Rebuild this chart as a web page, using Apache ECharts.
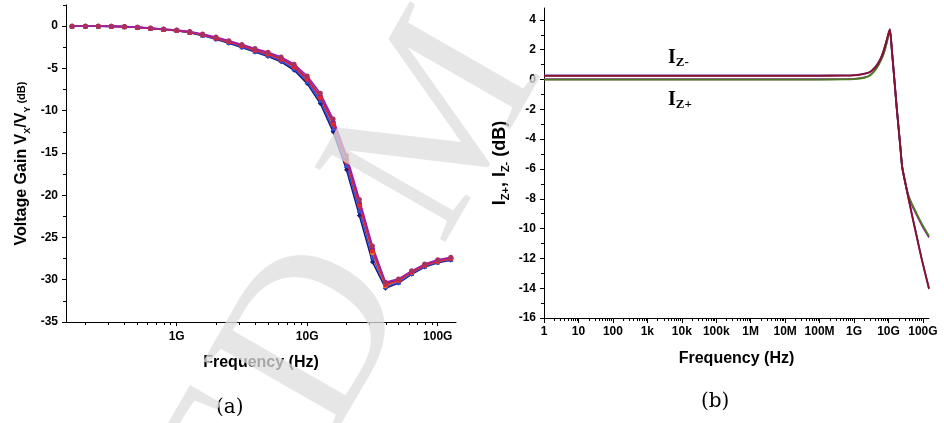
<!DOCTYPE html>
<html><head><meta charset="utf-8">
<script src="https://cdn.jsdelivr.net/npm/echarts@6/dist/echarts.min.js"></script>
<style>html,body{margin:0;padding:0;background:#fff}#c{width:944px;height:423px}</style>
</head><body><div id="c"></div>
<script>
// ---------- Panel (a): voltage gain ----------
const freqA = [1.58e8, 2.0e8, 2.51e8, 3.16e8, 3.98e8, 5.01e8, 6.31e8, 7.94e8, 1.0e9, 1.26e9,
  1.58e9, 2.0e9, 2.51e9, 3.16e9, 3.98e9, 5.01e9, 6.31e9, 7.94e9, 1.0e10, 1.26e10,
  1.58e10, 2.0e10, 2.51e10, 3.16e10, 3.98e10, 5.01e10, 6.31e10, 7.94e10, 1.0e11, 1.26e11];
const gainNavy = [0,0,-0.01,-0.03,-0.07,-0.15,-0.28,-0.41,-0.55,-0.77,-1.12,-1.54,-2.02,-2.52,-3.07,-3.58,-4.22,-5.22,-6.8,-9.15,-12.5,-17.0,-22.4,-27.9,-31.0,-30.4,-29.35,-28.5,-28.0,-27.7];
const gainBlue = [0,0,-0.01,-0.03,-0.07,-0.15,-0.28,-0.4,-0.53,-0.74,-1.08,-1.48,-1.94,-2.43,-2.96,-3.46,-4.08,-5.03,-6.55,-8.8,-12.1,-16.5,-21.8,-27.3,-30.8,-30.3,-29.25,-28.4,-27.9,-27.6];
const gainOrange = [0,0,-0.01,-0.02,-0.06,-0.14,-0.26,-0.38,-0.5,-0.69,-1.0,-1.38,-1.81,-2.27,-2.77,-3.24,-3.82,-4.7,-6.15,-8.3,-11.4,-15.7,-20.9,-26.8,-30.7,-30.1,-29.1,-28.3,-27.8,-27.5];
const gainPurple = [0,0,-0.01,-0.02,-0.06,-0.14,-0.26,-0.38,-0.5,-0.7,-1.01,-1.39,-1.83,-2.29,-2.79,-3.27,-3.85,-4.75,-6.2,-8.35,-11.4,-15.8,-21.0,-26.4,-30.4,-30.0,-29.05,-28.25,-27.75,-27.45];
const gainRed = [0,0,-0.01,-0.03,-0.07,-0.15,-0.27,-0.39,-0.51,-0.71,-1.03,-1.42,-1.86,-2.33,-2.84,-3.32,-3.91,-4.82,-6.29,-8.46,-11.6,-16.0,-21.2,-26.6,-30.6,-30.1,-29.1,-28.3,-27.8,-27.5];
const gainMagenta = [0,0,-0.01,-0.02,-0.05,-0.12,-0.23,-0.34,-0.45,-0.63,-0.93,-1.3,-1.72,-2.17,-2.65,-3.1,-3.66,-4.5,-5.9,-7.95,-11.0,-15.3,-20.5,-26.0,-30.3,-29.9,-28.95,-28.15,-27.65,-27.35];
const ticksXA = [1e9, 1e10, 1e11];
const labelsXA = ['1G', '10G', '100G'];
const ticksYA = [-35, -30, -25, -20, -15, -10, -5, 0];
const minorYA = [-32.5, -27.5, -22.5, -17.5, -12.5, -7.5, -2.5, 2.5];

// ---------- Panel (b): Iz+, Iz- ----------
const freqB = [1, 1e8, 5e8, 1e9, 2e9, 2.9e9, 4e9, 5e9, 6e9, 7.1e9, 8e9, 8.9e9, 1e10, 1.1e10,
  1.26e10, 1.49e10, 1.73e10, 2.2e10, 2.5e10, 3.05e10, 3.7e10, 4.7e10, 6.6e10, 9.4e10, 1.5e11];
const izMinusA = [0.27,0.27,0.28,0.3,0.4,0.51,0.8,1.11,1.45,1.89,2.3,2.67,3.1,3.35,1.9,-0.1,-1.9,-4.5,-5.9,-6.9,-7.8,-8.95,-10.5,-12.1,-14.0];
const izMinusB = [0.25,0.25,0.26,0.28,0.38,0.5,0.78,1.08,1.42,1.86,2.27,2.65,3.08,3.38,1.95,-0.05,-1.85,-4.45,-5.85,-6.9,-7.85,-9.0,-10.55,-12.15,-14.05];
const izPlusA = [0.0,0.0,0.01,0.03,0.12,0.27,0.6,0.93,1.28,1.67,2.05,2.47,2.95,3.25,1.85,-0.1,-1.9,-4.5,-5.9,-6.9,-7.7,-8.3,-9.0,-9.7,-10.5];
const izPlusB = [0.02,0.02,0.03,0.05,0.14,0.29,0.62,0.95,1.3,1.7,2.08,2.5,2.97,3.28,1.9,-0.05,-1.85,-4.45,-5.85,-6.85,-7.75,-8.4,-9.1,-9.8,-10.6];
const ticksXB = [1, 10, 100, 1e3, 1e4, 1e5, 1e6, 1e7, 1e8, 1e9, 1e10, 1e11];
const labelsXB = ['1', '10', '100', '1k', '10k', '100k', '1M', '10M', '100M', '1G', '10G', '100G'];
const ticksYB = [-16, -14, -12, -10, -8, -6, -4, -2, 0, 2, 4];
const minorYB = [-15, -13, -11, -9, -7, -5, -3, -1, 1, 3];

const FONT = '"Liberation Sans", Arial, sans-serif';
const SERIF = '"Liberation Serif", "Times New Roman", serif';

function minorLog(lo, hi) {
  const out = [];
  for (let e = Math.floor(Math.log10(lo)); e <= Math.ceil(Math.log10(hi)); e++) {
    for (let k = 2; k <= 9; k++) { const v = k * Math.pow(10, e); if (v >= lo && v <= hi) out.push(v); }
  }
  return out;
}
function logLabel(ticks, labels) {
  return function (v) {
    let best = 0, bd = Infinity;
    ticks.forEach((t, i) => { const d = Math.abs(Math.log10(t) - Math.log10(v)); if (d < bd) { bd = d; best = i; } });
    return bd < 0.01 ? labels[best] : '';
  };
}

const A_MIN = 1.42e8, A_MAX = 1.38e11, B_MIN = 1, B_MAX = 1.5e11;
const labelStyle = { fontFamily: FONT, fontWeight: 'bold', fontSize: 12, color: '#000' };
const lineBlack = { onZero: false, lineStyle: { color: '#000', width: 1 } };
const noLine = { show: false, onZero: false };

const chart = echarts.init(document.getElementById('c'));

const leftDefs = [
  { name: 'navy', data: gainNavy, line: '#1c1c78', item: '#1c1c78', symbol: 'diamond' },
  { name: 'blue', data: gainBlue, line: '#2f4fd8', item: '#2f4fd8', symbol: 'triangle' },
  { name: 'orange', data: gainOrange, line: '#f07a30', item: '#f07a30', symbol: 'circle' },
  { name: 'purple', data: gainPurple, line: '#6a1b9a', item: '#6a1b9a', symbol: 'circle' },
  { name: 'red', data: gainRed, line: '#e3262e', item: '#e3262e', symbol: 'circle' },
  { name: 'magenta', data: gainMagenta, line: '#9a1fb0', item: '#a8325e', symbol: 'circle' }
];
const rightDefs = [
  { name: 'Iz+ b', data: izPlusB, color: '#a020a8' },
  { name: 'Iz+ a', data: izPlusA, color: '#4a7d1c' },
  { name: 'Iz- a', data: izMinusA, color: '#5a2a86' },
  { name: 'Iz- b', data: izMinusB, color: '#8a1030' }
];

const series = [];
leftDefs.forEach(d => series.push({
  name: d.name, type: 'line', xAxisIndex: 0, yAxisIndex: 0,
  data: freqA.map((f, i) => [f, d.data[i]]),
  symbol: d.symbol, symbolSize: 5, showSymbol: true,
  lineStyle: { color: d.line, width: 1.6 }, itemStyle: { color: d.item },
  silent: true, animation: false
}));
rightDefs.forEach(d => series.push({
  name: d.name, type: 'line', xAxisIndex: 2, yAxisIndex: 2,
  data: freqB.map((f, i) => [f, d.data[i]]),
  showSymbol: false, smooth: 0.25,
  lineStyle: { color: d.color, width: 1.8 },
  silent: true, animation: false
}));

const option = {
  backgroundColor: '#fff',
  animation: false,
  grid: [
    { left: 66, top: 5, width: 390, height: 317 },
    { left: 544, top: 8, width: 385, height: 310 }
  ],
  xAxis: [
    { gridIndex: 0, type: 'log', logBase: 10, min: A_MIN, max: A_MAX, position: 'bottom',
      axisLine: lineBlack, splitLine: { show: false },
      axisTick: { customValues: ticksXA, length: 4, lineStyle: { color: '#000' } },
      axisLabel: Object.assign({ customValues: ticksXA, margin: 9, formatter: logLabel(ticksXA, labelsXA) }, labelStyle),
      name: 'Frequency (Hz)', nameLocation: 'middle', nameGap: 33,
      nameTextStyle: { fontFamily: FONT, fontWeight: 'bold', fontSize: 16, color: '#000' } },
    { gridIndex: 0, type: 'log', logBase: 10, min: A_MIN, max: A_MAX, position: 'bottom',
      axisLine: noLine, splitLine: { show: false },
      axisTick: { customValues: minorLog(A_MIN, A_MAX), length: 3, lineStyle: { color: '#000' } },
      axisLabel: { show: false } },
    { gridIndex: 1, type: 'log', logBase: 10, min: B_MIN, max: B_MAX, position: 'bottom',
      axisLine: lineBlack, splitLine: { show: false },
      axisTick: { customValues: ticksXB, length: 5, lineStyle: { color: '#000' } },
      axisLabel: Object.assign({ customValues: ticksXB, margin: 8, formatter: logLabel(ticksXB, labelsXB) }, labelStyle),
      name: 'Frequency (Hz)', nameLocation: 'middle', nameGap: 33,
      nameTextStyle: { fontFamily: FONT, fontWeight: 'bold', fontSize: 16, color: '#000' } },
    { gridIndex: 1, type: 'log', logBase: 10, min: B_MIN, max: B_MAX, position: 'bottom',
      axisLine: noLine, splitLine: { show: false },
      axisTick: { customValues: minorLog(B_MIN, B_MAX), length: 3, lineStyle: { color: '#000' } },
      axisLabel: { show: false } }
  ],
  yAxis: [
    { gridIndex: 0, type: 'value', min: -35, max: 2.5, position: 'left',
      axisLine: Object.assign({ show: true }, lineBlack), splitLine: { show: false },
      axisTick: { customValues: ticksYA, length: 4, lineStyle: { color: '#000' } },
      axisLabel: Object.assign({ customValues: ticksYA, margin: 8 }, labelStyle),
      name: '{m|Voltage Gain V}{s|X}{m|/V}{s|Y}{d| (dB)}', nameLocation: 'middle', nameGap: 34,
      nameTextStyle: { rich: {
        m: { fontFamily: FONT, fontWeight: 'bold', fontSize: 16, lineHeight: 20, color: '#000' },
        s: { fontFamily: FONT, fontWeight: 'bold', fontSize: 9, verticalAlign: 'bottom', color: '#000' },
        d: { fontFamily: FONT, fontWeight: 'bold', fontSize: 11, lineHeight: 20, color: '#000' }
      } } },
    { gridIndex: 0, type: 'value', min: -35, max: 2.5, position: 'left',
      axisLine: noLine, splitLine: { show: false },
      axisTick: { customValues: minorYA, length: 3, lineStyle: { color: '#000' } },
      axisLabel: { show: false } },
    { gridIndex: 1, type: 'value', min: -16, max: 4.8, position: 'left',
      axisLine: Object.assign({ show: true }, lineBlack), splitLine: { show: false },
      axisTick: { customValues: ticksYB, length: 4, lineStyle: { color: '#000' } },
      axisLabel: Object.assign({ customValues: ticksYB, margin: 8 }, labelStyle),
      name: '{m|I}{s|Z+}{m|, I}{s|Z-}{m| (dB)}', nameLocation: 'middle', nameGap: 33,
      nameTextStyle: { rich: {
        m: { fontFamily: FONT, fontWeight: 'bold', fontSize: 18, lineHeight: 22, color: '#000' },
        s: { fontFamily: FONT, fontWeight: 'bold', fontSize: 11, verticalAlign: 'bottom', color: '#000' }
      } } },
    { gridIndex: 1, type: 'value', min: -16, max: 4.8, position: 'left',
      axisLine: noLine, splitLine: { show: false },
      axisTick: { customValues: minorYB, length: 3, lineStyle: { color: '#000' } },
      axisLabel: { show: false } }
  ],
  graphic: [
    { type: 'text', z: 100, silent: true, x: 350, y: 287, rotation: 1.05,
      style: { text: 'ED M', fontFamily: SERIF, fontSize: 230, fill: 'rgba(222,222,222,0.75)', align: 'center', verticalAlign: 'middle' } },
    { type: 'text', left: 216, top: 398, silent: true,
      style: { text: '(a)', fontFamily: '"DejaVu Serif", serif', fontSize: 20, fill: '#000' } },
    { type: 'text', left: 701, top: 392, silent: true,
      style: { text: '(b)', fontFamily: '"DejaVu Serif", serif', fontSize: 20, fill: '#000' } },
    { type: 'text', left: 668, top: 48, silent: true,
      style: { text: '{i|I}{z|Z-}', rich: {
        i: { fontFamily: SERIF, fontWeight: 'bold', fontSize: 20, lineHeight: 22, fill: '#000' },
        z: { fontFamily: SERIF, fontWeight: 'bold', fontSize: 13, verticalAlign: 'bottom', fill: '#000' } } } },
    { type: 'text', left: 668, top: 90, silent: true,
      style: { text: '{i|I}{z|Z+}', rich: {
        i: { fontFamily: SERIF, fontWeight: 'bold', fontSize: 20, lineHeight: 22, fill: '#000' },
        z: { fontFamily: SERIF, fontWeight: 'bold', fontSize: 13, verticalAlign: 'bottom', fill: '#000' } } } }
  ],
  series: series
};
chart.setOption(option);
</script>
</body></html>
